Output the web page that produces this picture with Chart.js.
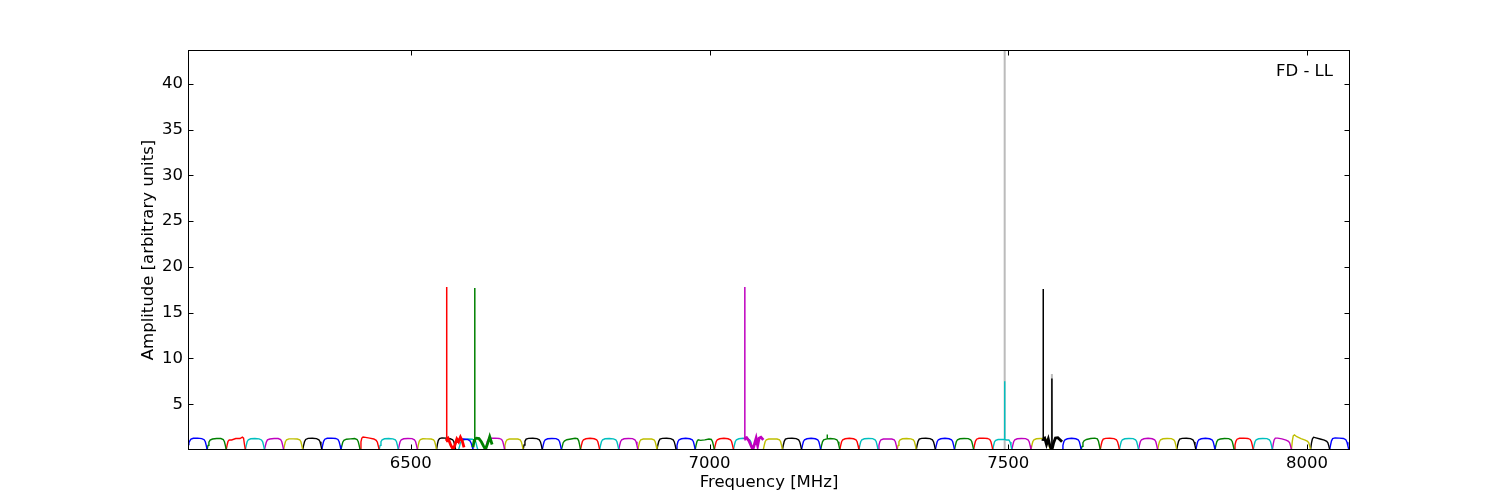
<!DOCTYPE html>
<html>
<head>
<meta charset="utf-8">
<script src="https://cdn.jsdelivr.net/npm/chart.js@4.4.1/dist/chart.umd.min.js"></script>
<style>
  body { margin: 0; background: #fff; }
  canvas { display: block; }
</style>
</head>
<body>
<canvas id="spectrum-chart" width="1500" height="500"></canvas>
<script>
// colour cycle of the spectral windows
const windowColors = ['#0000ff', '#008000', '#ff0000', '#00bfbf', '#bf00bf', '#bfbf00', '#000000'];

// start frequency [MHz] of every spectral window, in plotting order
const bandStart = [
  6127, 6159, 6191, 6223, 6255, 6287, 6319, 6351, 6383, 6415, 6447, 6479, 6511,
  6543, 6572, 6604, 6559, 6580, 6625,
  6656, 6688, 6720, 6752, 6784, 6816, 6848, 6880, 6912, 6944, 6976, 7008, 7040,
  7058,
  7090, 7122, 7154, 7186, 7218, 7250, 7282, 7314, 7346, 7378, 7410, 7442, 7474, 7506, 7538,
  7558,
  7590, 7622, 7654, 7686, 7718, 7750, 7782, 7814, 7846, 7878, 7910, 7942, 7974, 8006, 8038
];

// channel offsets inside a window [MHz]
const chanOffset = [0, 1.5, 3, 5, 9, 16, 23, 27, 29, 30.5, 32];

// amplitudes per window (null = narrow zoom window, see below)
const bandAmp = [
  [0.6, 0.8, 1.0, 1.18, 1.28, 1.3, 1.25, 1.12, 0.9, 0.5, 0.05],
  [0.05, 0.5, 0.85, 1.08, 1.2, 1.25, 1.25, 1.15, 0.9, 0.5, 0.05],
  [0.05, 0.55, 0.95, 1.1, 1.1, 1.25, 1.25, 1.4, 1.3, 0.6, 0.05],
  [0.05, 0.5, 0.9, 1.12, 1.23, 1.25, 1.22, 1.1, 0.9, 0.5, 0.05],
  [0.05, 0.45, 0.85, 1.1, 1.2, 1.25, 1.25, 1.15, 0.9, 0.5, 0.05],
  [0.05, 0.5, 0.9, 1.12, 1.22, 1.22, 1.2, 1.12, 0.9, 0.5, 0.05],
  [0.05, 0.5, 0.9, 1.15, 1.27, 1.28, 1.24, 1.12, 0.9, 0.5, 0.05],
  [0.05, 0.55, 0.95, 1.18, 1.28, 1.3, 1.26, 1.15, 0.9, 0.5, 0.05],
  [0.05, 0.45, 0.85, 1.05, 1.18, 1.22, 1.25, 1.15, 0.9, 0.5, 0.05],
  [0.05, 0.9, 1.3, 1.42, 1.38, 1.3, 1.2, 1.05, 0.85, 0.45, 0.05],
  [0.05, 0.5, 0.9, 1.12, 1.23, 1.25, 1.22, 1.12, 0.9, 0.5, 0.05],
  [0.05, 0.5, 0.9, 1.12, 1.23, 1.25, 1.24, 1.12, 0.9, 0.5, 0.05],
  [0.05, 0.55, 0.95, 1.15, 1.23, 1.22, 1.2, 1.12, 0.9, 0.5, 0.05],
  [0.05, 0.65, 1.05, 1.25, 1.32, 1.3, 1.23, 1.12, 0.9, 0.5, 0.05],
  [0.05, 0.45, 0.85, 1.05, 1.18, 1.2, 1.15, 1.0, 0.75, 0.4, 0.05],
  null,
  null,
  [0.05, 0.4, 0.8, 1.0, 1.12, 1.2, 1.18, 1.05, 0.8, 0.4, 0.05],
  [0.05, 0.55, 0.95, 1.18, 1.28, 1.3, 1.26, 1.15, 0.9, 0.5, 0.05],
  [0.05, 0.5, 0.9, 1.12, 1.2, 1.22, 1.2, 1.1, 0.88, 0.5, 0.05],
  [0.05, 0.55, 0.95, 1.18, 1.27, 1.28, 1.24, 1.12, 0.88, 0.5, 0.05],
  [0.05, 0.5, 0.9, 1.12, 1.23, 1.25, 1.24, 1.12, 0.9, 0.5, 0.05],
  [0.05, 0.4, 0.8, 0.98, 1.12, 1.2, 1.28, 1.25, 1.0, 0.55, 0.05],
  [0.05, 0.5, 0.9, 1.12, 1.23, 1.28, 1.23, 1.12, 0.9, 0.5, 0.05],
  [0.05, 0.5, 0.9, 1.12, 1.23, 1.25, 1.22, 1.12, 0.9, 0.5, 0.05],
  [0.05, 0.5, 0.9, 1.12, 1.23, 1.25, 1.24, 1.12, 0.9, 0.5, 0.05],
  [0.05, 0.5, 0.9, 1.12, 1.2, 1.2, 1.2, 1.12, 0.9, 0.5, 0.05],
  [0.05, 0.55, 0.95, 1.18, 1.27, 1.28, 1.24, 1.12, 0.88, 0.5, 0.05],
  [0.05, 0.5, 0.9, 1.12, 1.23, 1.28, 1.23, 1.12, 0.9, 0.5, 0.05],
  [0.05, 0.55, 0.95, 1.12, 1.05, 1.1, 1.2, 1.15, 0.9, 0.5, 0.05],
  [0.05, 0.5, 0.9, 1.12, 1.23, 1.28, 1.23, 1.12, 0.9, 0.5, 0.05],
  [0.05, 0.5, 0.9, 1.12, 1.23, 1.28, 1.23, 1.12, 0.9, 0.5, 0.05],
  null,
  [0.05, 0.5, 0.9, 1.12, 1.2, 1.22, 1.2, 1.12, 0.9, 0.5, 0.05],
  [0.05, 0.55, 0.95, 1.18, 1.27, 1.28, 1.24, 1.12, 0.88, 0.5, 0.05],
  [0.05, 0.5, 0.9, 1.12, 1.23, 1.28, 1.23, 1.12, 0.9, 0.5, 0.05],
  [0.05, 0.5, 0.9, 1.1, 1.18, 1.25, 1.22, 1.12, 0.9, 0.5, 0.05],
  [0.05, 0.5, 0.9, 1.12, 1.23, 1.28, 1.23, 1.12, 0.9, 0.5, 0.05],
  [0.05, 0.5, 0.9, 1.12, 1.23, 1.25, 1.24, 1.12, 0.9, 0.5, 0.05],
  [0.05, 0.5, 0.9, 1.12, 1.2, 1.22, 1.2, 1.12, 0.9, 0.5, 0.05],
  [0.05, 0.5, 0.9, 1.12, 1.23, 1.25, 1.22, 1.12, 0.9, 0.5, 0.05],
  [0.05, 0.55, 0.95, 1.18, 1.27, 1.28, 1.24, 1.12, 0.88, 0.5, 0.05],
  [0.05, 0.5, 0.9, 1.12, 1.23, 1.28, 1.23, 1.12, 0.9, 0.5, 0.05],
  [0.05, 0.5, 0.9, 1.12, 1.23, 1.25, 1.24, 1.12, 0.9, 0.5, 0.05],
  [0.05, 0.55, 0.95, 1.18, 1.28, 1.3, 1.26, 1.15, 0.9, 0.5, 0.05],
  [0.05, 0.5, 0.9, 1.05, 1.15, 1.15, 1.1, 1.1, 0.88, 0.5, 0.05],
  [0.05, 0.5, 0.9, 1.12, 1.23, 1.25, 1.24, 1.12, 0.9, 0.5, 0.05],
  [0.05, 0.5, 0.9, 1.12, 1.23, 1.25, 1.24, 1.12, 0.9, 0.5, 0.05],
  null,
  [0.05, 0.5, 0.9, 1.12, 1.23, 1.28, 1.23, 1.12, 0.9, 0.5, 0.05],
  [0.05, 0.4, 0.8, 1.02, 1.15, 1.25, 1.3, 1.22, 0.95, 0.5, 0.05],
  [0.05, 0.55, 0.95, 1.18, 1.27, 1.28, 1.24, 1.12, 0.88, 0.5, 0.05],
  [0.05, 0.5, 0.9, 1.12, 1.23, 1.25, 1.24, 1.12, 0.9, 0.5, 0.05],
  [0.05, 0.5, 0.9, 1.12, 1.23, 1.28, 1.23, 1.12, 0.9, 0.5, 0.05],
  [0.05, 0.5, 0.9, 1.12, 1.23, 1.25, 1.24, 1.12, 0.9, 0.5, 0.05],
  [0.05, 0.55, 0.95, 1.18, 1.27, 1.28, 1.24, 1.12, 0.88, 0.5, 0.05],
  [0.05, 0.5, 0.9, 1.12, 1.23, 1.28, 1.23, 1.12, 0.9, 0.5, 0.05],
  [0.05, 0.5, 0.9, 1.1, 1.2, 1.25, 1.24, 1.12, 0.9, 0.5, 0.05],
  [0.05, 0.55, 0.95, 1.18, 1.28, 1.3, 1.26, 1.15, 0.9, 0.5, 0.05],
  [0.05, 0.5, 0.9, 1.12, 1.23, 1.25, 1.24, 1.12, 0.9, 0.5, 0.05],
  [0.05, 0.65, 1.1, 1.3, 1.3, 1.22, 1.08, 0.95, 0.78, 0.45, 0.05],
  [0.05, 1.0, 1.55, 1.65, 1.45, 1.25, 1.08, 0.95, 0.78, 0.45, 0.05],
  [0.05, 0.75, 1.2, 1.4, 1.33, 1.2, 1.08, 0.95, 0.78, 0.45, 0.05],
  [0.05, 0.55, 1.0, 1.25, 1.32, 1.3, 1.26, 1.12, 0.85, 0.45, 0.05]
];

// narrow lines sitting on ordinary windows
const spikeBand = [45, 36];
const spikeFreq = [7494, 7197];
const spikeAmp = [7.5, 1.7];
const spikeBase = [1.15, 1.22];

// zoom windows (higher resolution, drawn thicker)
const zoomBand = [16, 15, 32, 48];
const redZoomOff = [0, 0.9, 1.0, 1.1, 3, 5, 8, 12, 15, 18, 21, 24, 27, 30];
const redZoomAmp = [1.0, 1.2, 17.8, 1.2, 1.3, 1.0, 0.5, 0.05, 0.6, 1.2, 0.9, 1.4, 1.0, 0.3];
const greenZoomOff = [0, 2, 2.9, 3.0, 3.1, 6, 10, 14, 18, 21, 25, 28, 32];
const greenZoomAmp = [0.3, 1.0, 1.2, 17.7, 1.2, 1.3, 1.25, 0.9, 0.4, 0.05, 0.8, 1.45, 0.6];
const magentaZoomOff = [0, 0.9, 1.0, 1.1, 4, 8, 12, 14.5, 17, 20, 22.5, 25, 28, 32];
const magentaZoomAmp = [1.2, 1.3, 17.8, 1.3, 1.35, 1.0, 0.4, 0.05, 0.6, 1.3, 0.5, 1.3, 1.4, 1.1];
const blackZoomOff = [0, 0.4, 0.5, 0.6, 3, 6, 9, 12, 14.8, 15, 15.2, 18, 21, 25, 29, 32];
const blackZoomAmp = [1.0, 1.2, 17.6, 1.2, 1.3, 0.6, 1.2, 0.4, 0.05, 7.8, 0.05, 0.8, 1.3, 1.35, 1.1, 0.9];
const zoomOffsets = [redZoomOff, greenZoomOff, magentaZoomOff, blackZoomOff];
const zoomAmps = [redZoomAmp, greenZoomAmp, magentaZoomAmp, blackZoomAmp];

// grey reference lines behind the data
const greyFreq = [7494, 7573];
const greyTop = [60, 8.3];

const xTicks = [6500, 7000, 7500, 8000];
const yTicks = [5, 10, 15, 20, 25, 30, 35, 40];

const font = { family: 'DejaVu Sans', size: 16.5 };

const buildDatasets = () => {
  const sets = [];
  bandStart.forEach((start, i) => {
    const color = windowColors[i % windowColors.length];
    const z = zoomBand.indexOf(i);
    if (z >= 0) {
      const pts = zoomOffsets[z].map((o, k) => ({ x: start + o, y: zoomAmps[z][k] }));
      sets.push({
        data: pts, borderColor: color, borderWidth: 2.8, order: 0,
        segment: { borderWidth: c => (c.p0.parsed.y > 2.5 || c.p1.parsed.y > 2.5) ? 1.5 : 2.8 }
      });
      return;
    }
    const pts = chanOffset.map((o, k) => ({ x: start + o, y: bandAmp[i][k] }));
    spikeBand.forEach((b, s) => {
      if (b !== i) return;
      pts.push({ x: spikeFreq[s] - 0.1, y: spikeBase[s] });
      pts.push({ x: spikeFreq[s], y: spikeAmp[s] });
      pts.push({ x: spikeFreq[s] + 0.1, y: spikeBase[s] });
    });
    pts.sort((a, b) => a.x - b.x);
    sets.push({ data: pts, borderColor: color, borderWidth: 1.4, order: 1 });
  });
  greyFreq.forEach((f, g) => {
    sets.push({
      data: [{ x: f, y: 0 }, { x: f, y: greyTop[g] }],
      borderColor: '#bbbbbb', borderWidth: 2, order: 2
    });
  });
  return sets;
};

const frame = {
  id: 'frame',
  afterDraw(chart) {
    const { ctx, chartArea: a, scales: { x, y } } = chart;
    ctx.save();
    ctx.strokeStyle = '#000';
    ctx.lineWidth = 1;
    ctx.beginPath();
    xTicks.forEach(v => {
      const px = Math.round(x.getPixelForValue(v)) + 0.5;
      ctx.moveTo(px, a.bottom); ctx.lineTo(px, a.bottom - 5.5);
      ctx.moveTo(px, a.top); ctx.lineTo(px, a.top + 5.5);
    });
    yTicks.forEach(v => {
      const py = Math.round(y.getPixelForValue(v)) + 0.5;
      ctx.moveTo(a.left, py); ctx.lineTo(a.left + 5.5, py);
      ctx.moveTo(a.right, py); ctx.lineTo(a.right - 5.5, py);
    });
    ctx.stroke();
    ctx.strokeRect(a.left + 0.5, a.top + 0.5, a.width - 1, a.height - 1);
    ctx.fillStyle = '#000';
    ctx.font = '16.5px "DejaVu Sans"';
    ctx.textAlign = 'right';
    ctx.textBaseline = 'alphabetic';
    ctx.fillText('FD - LL', a.right - 17, a.top + 26);
    ctx.restore();
  }
};

const spectrumChart = () => {
  const options = {
    type: 'scatter',
    data: { datasets: buildDatasets() },
    options: {
      responsive: false,
      animation: false,
      showLine: true,
      layout: { padding: { left: 0, right: 150, top: 50, bottom: 0 } },
      elements: { point: { radius: 0, hoverRadius: 0 }, line: { tension: 0 } },
      plugins: { legend: { display: false }, tooltip: { enabled: false } },
      scales: {
        x: {
          type: 'linear', min: 6127, max: 8072,
          grid: { display: false, drawTicks: false },
          border: { display: false },
          afterBuildTicks: s => { s.ticks = xTicks.map(v => ({ value: v })); },
          afterFit: s => { s.height = 50; },
          ticks: { padding: 4, font, color: '#000', maxRotation: 0, autoSkip: false, callback: v => String(v) },
          title: { display: true, text: 'Frequency [MHz]', font, color: '#000', padding: { top: 0, bottom: 7 } }
        },
        y: {
          type: 'linear', min: 0, max: 43.7,
          grid: { display: false, drawTicks: false },
          border: { display: false },
          afterBuildTicks: s => { s.ticks = yTicks.map(v => ({ value: v })); },
          afterFit: s => { s.width = 188; },
          ticks: { padding: 5, font, color: '#000', autoSkip: false, callback: v => String(v) },
          title: { display: true, text: 'Amplitude [arbitrary units]', font, color: '#000', padding: { top: 139, bottom: 0 } }
        }
      }
    },
    plugins: [frame]
  };
  const canvas = document.getElementById('spectrum-chart').getContext('2d');
  new Chart(canvas, options);
};

spectrumChart();
</script>
</body>
</html>
